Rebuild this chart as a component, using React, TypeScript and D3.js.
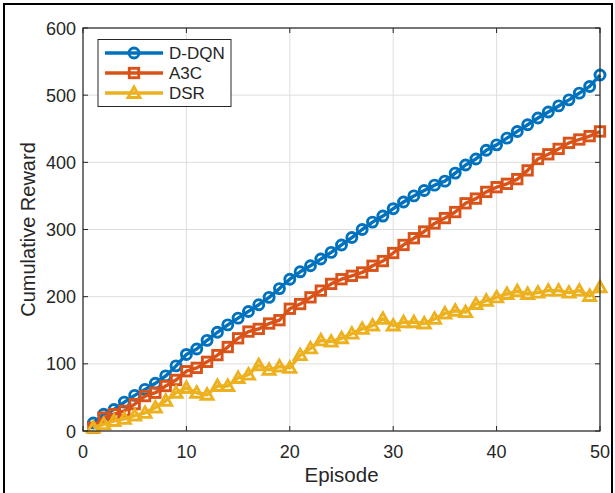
import React from "react";
import * as d3 from "d3";

const episodes = d3.range(1, 51);
const ddqn = [12, 25, 32, 43, 53, 62, 71, 82, 97, 114, 122, 135, 147, 158, 168, 178, 188, 199, 212, 226, 237, 246, 256, 266, 277, 288, 300, 311, 320, 331, 341, 350, 358, 366, 372, 384, 396, 405, 418, 426, 436, 446, 456, 466, 475, 484, 493, 503, 513, 530];
const a3c = [5, 20, 25, 30, 40, 52, 57, 67, 76, 89, 94, 103, 113, 125, 138, 148, 152, 160, 165, 182, 189, 199, 209, 219, 226, 231, 236, 246, 253, 265, 277, 287, 297, 309, 317, 326, 339, 346, 356, 363, 368, 375, 388, 405, 412, 420, 429, 434, 439, 446];
const dsr = [5, 10, 15, 18, 23, 27, 35, 45, 57, 64, 57, 54, 67, 67, 79, 84, 98, 91, 96, 94, 113, 123, 135, 133, 138, 145, 152, 157, 167, 157, 162, 162, 160, 167, 175, 179, 177, 189, 194, 199, 204, 208, 204, 206, 209, 209, 206, 209, 201, 214];
const seriesNames = ["D-DQN", "A3C", "DSR"];
const seriesColors = ["#0072BD", "#D95319", "#EDB120"];
const seriesMarkers = ["circle", "square", "triangle"];
const xTicks = [0, 10, 20, 30, 40, 50];
const yTicks = [0, 100, 200, 300, 400, 500, 600];

const W = 615, H = 493;
const L = 83, R = 600, T = 28, B = 431;
const FONT = "'Liberation Sans', Arial, Helvetica, sans-serif";
const TXT = "#262626";

function Marker({ kind, cx, cy, color }: { kind: string; cx: number; cy: number; color: string }) {
  const sw = 2.9;
  if (kind === "circle") return <circle cx={cx} cy={cy} r={5} fill="none" stroke={color} strokeWidth={sw} />;
  if (kind === "square") return <rect x={cx - 4.7} y={cy - 4.7} width={9.4} height={9.4} fill="none" stroke={color} strokeWidth={sw} />;
  const s = 6;
  return <path d={`M${cx},${cy - s} L${cx + s},${cy + s * 0.75} L${cx - s},${cy + s * 0.75} Z`} fill="none" stroke={color} strokeWidth={sw} strokeLinejoin="miter" />;
}

export default function App() {
  const x = d3.scaleLinear().domain([0, 50]).range([L, R]);
  const y = d3.scaleLinear().domain([0, 600]).range([B, T]);
  const data = [ddqn, a3c, dsr];
  const line = d3.line<number>().x((_, i) => x(episodes[i])).y((d) => y(d));

  return (
    <svg width={W} height={H} style={{ position: "absolute", left: 0, top: 0, background: "#fff" }} fontFamily={FONT}>
      <rect x={0} y={0} width={W} height={H} fill="#fff" />
      {xTicks.map((t) => (
        <line key={"gx" + t} x1={x(t)} x2={x(t)} y1={T} y2={B} stroke="#dedede" strokeWidth={1} />
      ))}
      {yTicks.map((t) => (
        <line key={"gy" + t} x1={L} x2={R} y1={y(t)} y2={y(t)} stroke="#dedede" strokeWidth={1} />
      ))}
      {data.map((vals, si) => (
        <g key={si}>
          <path d={line(vals) || ""} fill="none" stroke={seriesColors[si]} strokeWidth={3.4} strokeLinejoin="round" />
          {vals.map((v, i) => (
            <Marker key={i} kind={seriesMarkers[si]} cx={x(episodes[i])} cy={y(v)} color={seriesColors[si]} />
          ))}
        </g>
      ))}
      <rect x={L} y={T} width={R - L} height={B - T} fill="none" stroke={TXT} strokeWidth={1.2} />
      {xTicks.map((t) => (
        <g key={"xt" + t}>
          <line x1={x(t)} x2={x(t)} y1={B} y2={B - 5} stroke={TXT} strokeWidth={1} />
          <line x1={x(t)} x2={x(t)} y1={T} y2={T + 5} stroke={TXT} strokeWidth={1} />
          <text x={x(t)} y={B + 27} textAnchor="middle" fontSize={18} fill={TXT}>{t}</text>
        </g>
      ))}
      {yTicks.map((t) => (
        <g key={"yt" + t}>
          <line x1={L} x2={L + 5} y1={y(t)} y2={y(t)} stroke={TXT} strokeWidth={1} />
          <line x1={R} x2={R - 5} y1={y(t)} y2={y(t)} stroke={TXT} strokeWidth={1} />
          <text x={L - 7} y={y(t) + 6.5} textAnchor="end" fontSize={18} fill={TXT}>{t}</text>
        </g>
      ))}
      <text x={(L + R) / 2} y={482} textAnchor="middle" fontSize={20.5} fill={TXT}>Episode</text>
      <text transform={`translate(35, ${(T + B) / 2}) rotate(-90)`} textAnchor="middle" fontSize={20} fill={TXT}>Cumulative Reward</text>
      <rect x={98} y={39.5} width={133} height={67} fill="#fff" stroke={TXT} strokeWidth={1} />
      {seriesNames.map((n, i) => {
        const ly = 53 + i * 20;
        return (
          <g key={n}>
            <line x1={105} x2={163} y1={ly} y2={ly} stroke={seriesColors[i]} strokeWidth={3.4} />
            <Marker kind={seriesMarkers[i]} cx={134} cy={ly} color={seriesColors[i]} />
            <text x={169} y={ly + 6} fontSize={17} fill={TXT}>{n}</text>
          </g>
        );
      })}
      <path d={`M4,${H + 5} L4,4 L612,4 L612,${H + 5}`} fill="none" stroke="#000" strokeWidth={2} />
    </svg>
  );
}
